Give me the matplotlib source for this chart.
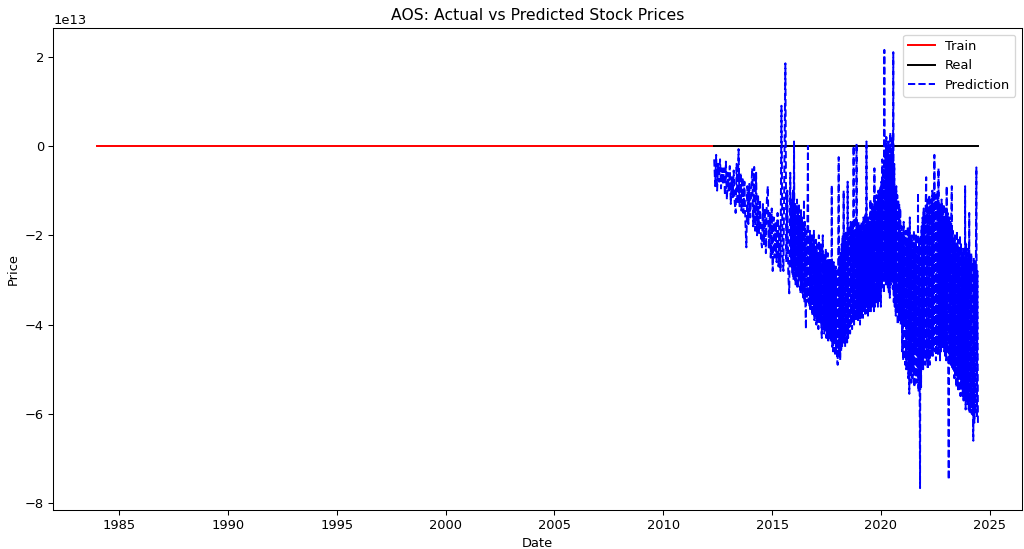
import numpy as np
import pandas as pd
import matplotlib
matplotlib.use("Agg")
import matplotlib.pyplot as plt

# dates of the pieces
train_start = "1984-01-03"
split_date = "2012-05-04"
pred_a_end = "2015-11-17"
pred_b_start = "2015-12-01"
pred_b_end = "2020-11-27"
pred_c_start = "2020-12-12"
end_date = "2024-06-14"

# closing prices (tiny next to the 1e13 prediction scale)
train_price = [0.6, 0.7, 0.9, 1.1, 1.0, 1.3, 1.6, 1.5, 2.0, 2.4, 2.2, 2.9,
               3.4, 3.1, 4.0, 4.6, 4.2, 5.1, 5.8, 6.5, 7.2, 8.0, 8.8, 9.5]
real_price = [9.8, 12.5, 16.0, 24.0, 33.0, 38.0, 45.0, 60.0, 52.0, 48.0,
              43.0, 55.0, 65.0, 74.0, 61.0, 68.0, 78.0, 84.0]

# predicted prices, units of 1e13 in time order
# part a: May 2012 - Nov 2015
pred_a = [
    -0.3, -0.9, -0.2, -1.0, -0.4, -0.8, -0.3, -0.95, -0.5, -0.85,
    -0.5, -1.1, -0.35, -1.2, -0.6, -1.0, -0.45, -1.3, -0.7, -1.15,
    -0.55, -1.25, -1.5, -0.4, -1.3, -0.07, -1.35, -0.6, -1.45, -0.7,
    -1.5, -0.8, -1.7, -2.27, -0.9, -1.75, -0.85, -1.6, -1.0, -0.5,
    -1.8, -0.47, -1.9, -0.6, -2.0, -1.1, -1.95, -1.2, -2.1, -2.27,
    -1.3, -2.2, -1.4, -2.4, -1.2, -0.9, -2.3, -1.5, -2.5, -1.4,
    -2.8, -1.6, -2.5, -1.7, -2.6, -1.5, -2.7, -1.8, -2.8, 0.9,
    -2.4, -2.8, -0.5, 1.85, -2.6, -1.0, -2.9, -3.3, -0.6, -2.7,
]
# part b: Dec 2015 - Nov 2020
pred_b = [
    -1.2, -2.9, -1.0, -3.0, 0.1, -2.6, -1.3, -3.1, -1.4, -2.8,
    -1.2, -3.2, -1.5, -3.0, -1.3, -2.9, -1.6, -3.3, -1.4, -3.1,
    -1.6, -3.3, -1.8, -3.4, -1.2, -3.5, -1.7, -3.6, -4.1, -1.9,
    -3.4, -1.8, 0.0, -3.5, -2.0, -3.6, -1.9, -3.7, -2.1, -3.5,
    -2.0, -3.8, -2.2, -3.7, -1.9, -3.9, -2.3, -3.8, -2.1, -4.0,
    -2.2, -3.9, -2.4, -4.1, -2.0, -3.8, -2.3, -4.0, -2.2, -4.1,
    -4.3, -2.3, -2.0, -4.1, -2.4, -4.2, -2.5, -4.0, -2.3, -4.3,
    -2.6, -4.2, -2.4, -4.4, -2.7, -4.3, -2.5, -4.2, -2.6, -4.4,
    -0.88, -4.5, -2.7, -4.6, -2.6, -4.4, -2.8, -4.7, -2.7, -4.6,
    -2.8, -4.8, -4.9, -2.6, -0.25, -4.7, -2.5, -4.8, -2.4, -4.6,
    -2.2, -4.5, -2.0, -4.4, -1.0, -4.3, -2.1, -4.5, -1.9, -4.2,
    -2.0, -4.4, -0.8, -4.3, -1.8, -4.1, -2.0, -4.2, -1.7, -4.0,
    -1.8, -4.1, -1.7, -3.9, 0.0, -4.0, -1.9, -3.8, -1.6, -3.9,
    0.05, -3.75, -1.8, -3.9, -1.7, -3.8, -1.9, -4.0, -1.8, -3.85,
    -1.7, -3.8, -1.9, -3.85, -1.6, -3.7, -1.8, -3.8, -1.5, -3.75,
    0.1, -3.6, -1.7, -3.8, -1.6, -3.7, -1.8, -3.6, -1.2, -3.7,
    -1.5, -3.6, -1.3, -3.5, -1.4, -3.7, -0.5, -3.6, -1.2, -3.4,
    -1.1, -3.5, -1.3, -3.6, -1.0, -3.4, -1.1, -3.5, -0.9, -3.6,
    -0.8, -3.2, -0.3, -3.0, -0.5, -3.3, 2.15, -2.9, -0.1, -3.1,
    0.2, -3.0, -0.2, -3.2, 0.1, -3.3, -0.3, -3.4, 0.3, -3.1,
    -0.1, -3.0, 0.2, -3.2, 2.1, -3.5, -0.4, -3.6, -1.0, -3.8,
    -0.9, -3.7, -1.1, -4.0, -1.2, -3.9, -1.3, -3.8, -1.4, -4.0,
]
# part c: Dec 2020 - Jun 2024
pred_c = [
    -1.8, -4.6, -2.0, -4.8, -1.7, -3.9, -2.1, -4.9, -1.9, -5.0,
    -2.2, -4.7, -1.8, -5.2, -2.0, -5.55, -1.6, -5.1, -2.1, -5.3,
    -2.0, -5.2, -2.3, -5.0, -1.9, -5.4, -2.2, -4.6, -2.0, -5.3,
    -2.4, -5.1, -1.05, -5.5, -2.1, -5.2, -7.66, -2.0, -5.4, -1.8,
    -4.9, -1.6, -5.0, -1.4, -4.7, -1.5, -4.9, -1.3, -0.7, -4.8,
    -1.2, -5.0, -1.4, -4.8, -1.1, -4.9, -1.3, -4.7, -1.2, -4.6,
    -1.0, -4.7, -1.3, -4.5, -0.2, -4.6, -1.1, -4.8, -1.2, -4.6,
    -1.0, -4.7, -0.5, -4.5, -1.3, -4.8, -1.4, -4.6, -1.2, -4.5,
    -1.5, -4.5, -1.3, -4.6, -1.6, -4.7, -1.4, -4.8, -0.9, -4.6,
    -1.5, -4.9, -7.47, -1.6, -4.8, -1.7, -4.9, -1.5, -0.9, -5.0,
    -1.9, -5.0, -2.1, -5.2, -2.0, -5.1, -2.2, -5.4, -1.9, -5.3,
    -2.1, -5.5, -2.3, -5.2, -2.0, -5.6, -2.2, -5.4, -2.4, -5.6,
    -2.3, -5.7, -2.5, -5.6, -0.9, -5.9, -2.2, -5.7, -2.4, -5.8,
    -2.3, -5.9, -1.5, -6.0, -2.5, -5.8, -2.4, -6.0, -2.6, -5.9,
    -6.6, -2.5, -6.2, -2.7, -6.0, -2.6, -0.48, -6.1, -2.8, -6.2,
]

train_dates = pd.date_range(train_start, split_date, periods=len(train_price))
real_dates = pd.date_range(split_date, end_date, periods=len(real_price))
pred_dates = (pd.date_range(split_date, pred_a_end, periods=len(pred_a))
              .append(pd.date_range(pred_b_start, pred_b_end, periods=len(pred_b)))
              .append(pd.date_range(pred_c_start, end_date, periods=len(pred_c))))
pred = np.array(pred_a + pred_b + pred_c) * 1e13

fig, ax = plt.subplots(figsize=(1024 / 94, 549 / 94), dpi=94)
fig.subplots_adjust(left=0.052, right=0.998, top=0.949, bottom=0.071)

ax.plot(train_dates, train_price, color="red", label="Train")
ax.plot(real_dates, real_price, color="black", label="Real")
ax.plot(pred_dates, pred, "b--", label="Prediction")

ax.set_title("AOS: Actual vs Predicted Stock Prices")
ax.set_xlabel("Date")
ax.set_ylabel("Price")
ax.legend(loc="upper right")

fig.savefig("out.png")
